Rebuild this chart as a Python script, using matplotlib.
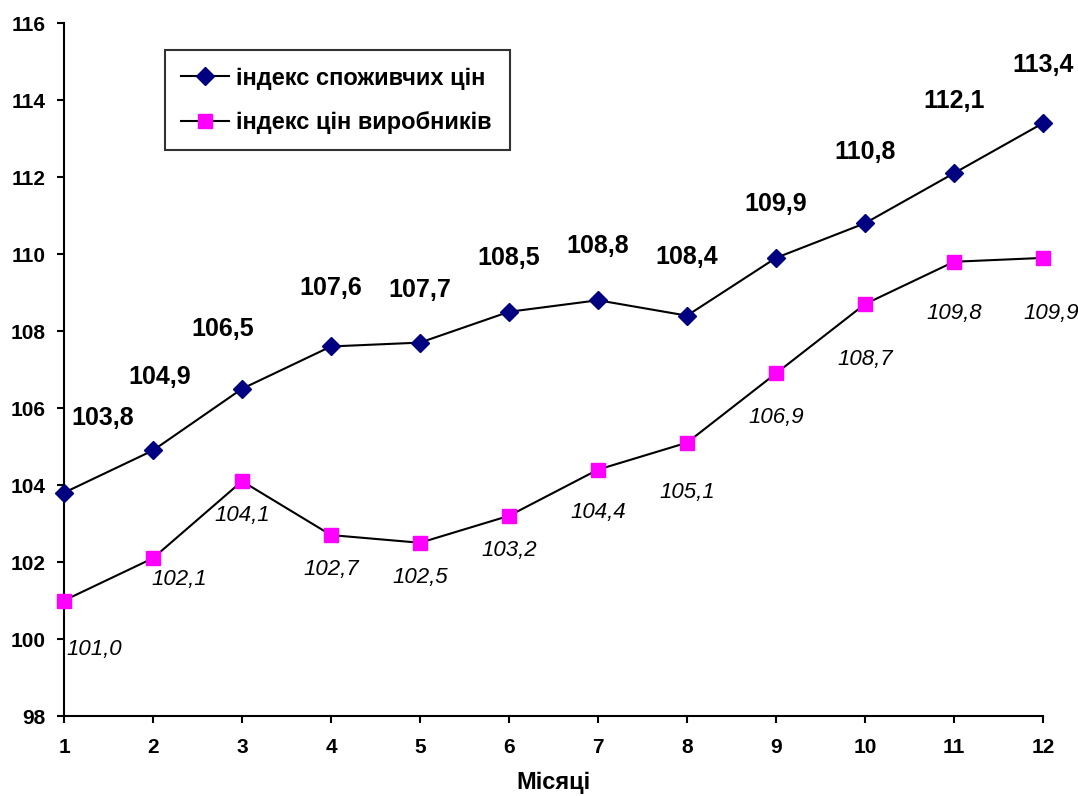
import matplotlib.pyplot as plt

plt.rcParams['font.family'] = ['Liberation Sans', 'DejaVu Sans']

months = list(range(1, 13))
cpi = [103.8, 104.9, 106.5, 107.6, 107.7, 108.5, 108.8, 108.4, 109.9, 110.8, 112.1, 113.4]
ppi = [101.0, 102.1, 104.1, 102.7, 102.5, 103.2, 104.4, 105.1, 106.9, 108.7, 109.8, 109.9]
cpi_name = 'індекс споживчих цін'
ppi_name = 'індекс цін виробників'
y_ticks = list(range(98, 117, 2))


def fmt(v):
    return ('%.1f' % v).replace('.', ',')


def main():
    fig = plt.figure(figsize=(10.78, 7.96), dpi=100)
    ax = fig.add_axes([0.0594, 0.1005, 0.9081, 0.8705])

    ax.plot(months, cpi, color='black', lw=1.5, marker='D', ms=9,
            mfc='#000080', mec='#000080', label=cpi_name, clip_on=False, zorder=3)
    ax.plot(months, ppi, color='black', lw=1.5, marker='s', ms=10,
            mfc='#ff00ff', mec='#ff00ff', label=ppi_name, clip_on=False, zorder=3)

    # label offsets in points (Excel-like placement)
    cpi_off = [(28, 54), (5, 53), (-14, 43), (0, 42), (0, 38), (0, 39),
               (0, 39), (0, 42), (0, 39), (0, 51), (0, 52), (0, 42)]
    ppi_off = [(22, -35), (19, -15), (0, -25), (0, -25), (0, -25), (0, -25),
               (0, -31), (0, -36), (0, -32), (0, -40), (0, -37), (6, -40)]

    for x, v, off in zip(months, cpi, cpi_off):
        ax.annotate(fmt(v), (x, v), xytext=off, textcoords='offset points',
                    ha='center', va='center', fontsize=18, fontweight='bold')
    for x, v, off in zip(months, ppi, ppi_off):
        ax.annotate(fmt(v), (x, v), xytext=off, textcoords='offset points',
                    ha='center', va='center', fontsize=16, fontstyle='italic')

    ax.set_xlim(1, 12)
    ax.set_ylim(98, 116)
    ax.set_xticks(months)
    ax.set_yticks(y_ticks)
    ax.spines['top'].set_visible(False)
    ax.spines['right'].set_visible(False)
    for s in ('left', 'bottom'):
        ax.spines[s].set_linewidth(1.5)
    ax.tick_params(direction='out', length=5, width=1.5, labelsize=15)
    ax.tick_params(axis='x', pad=11)
    ax.tick_params(axis='y', pad=8)
    for lab in ax.get_xticklabels() + ax.get_yticklabels():
        lab.set_fontweight('bold')
    ax.set_xlabel('Місяці', fontsize=17, fontweight='bold', labelpad=10)

    leg = ax.legend(loc='center left', bbox_to_anchor=(0.153, 0.811, 0.32, 0.126),
                    bbox_transform=fig.transFigure, mode='expand', fontsize=17,
                    frameon=True, fancybox=False, edgecolor='black',
                    handlelength=2.0, handletextpad=0.3, borderaxespad=0,
                    borderpad=0.7, labelspacing=0.9)
    leg.get_frame().set_linewidth(1.5)
    for t in leg.get_texts():
        t.set_fontweight('bold')

    fig.savefig('out.png', dpi=100)


if __name__ == "__main__":
    main()
